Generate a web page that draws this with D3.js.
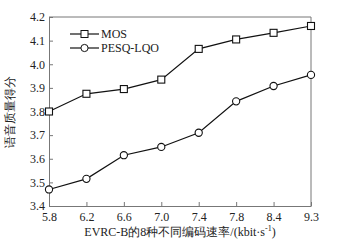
<!DOCTYPE html>
<html>
<head>
<meta charset="utf-8">
<script src="https://cdn.jsdelivr.net/npm/d3@7"></script>
<style>
body { margin: 0; background: #fff; }
text { font-family: "Liberation Serif", "Times New Roman", serif; }
</style>
</head>
<body>
<div id="chart"></div>
<script>
// data
var rates = ["5.8", "6.2", "6.6", "7.0", "7.4", "7.8", "8.4", "9.3"];
var mos = [3.80, 3.875, 3.895, 3.935, 4.065, 4.105, 4.133, 4.162];
var pesq = [3.47, 3.515, 3.615, 3.65, 3.71, 3.843, 3.908, 3.955];
var yTicks = [3.4, 3.5, 3.6, 3.7, 3.8, 3.9, 4.0, 4.1, 4.2];

var margin = {top: 17, right: 31, bottom: 41, left: 49},
    width = 342 - margin.left - margin.right,
    height = 247 - margin.top - margin.bottom;

var svg = d3.select("#chart")
  .append("svg")
    .attr("width", 342)
    .attr("height", 247)
  .append("g")
    .attr("transform", "translate(" + margin.left + "," + margin.top + ")");

var x = d3.scalePoint()
  .domain(rates)
  .range([0, width]);

var y = d3.scaleLinear()
  .domain([3.4, 4.2])
  .range([height, 0]);

var axisColor = "#777";

// X axis, ticks pointing inward
var gx = svg.append("g")
  .attr("transform", "translate(0," + height + ")")
  .call(d3.axisBottom(x).tickSizeInner(-4).tickSizeOuter(0).tickPadding(6));
gx.selectAll("text").style("font-size", "12px").attr("fill", "#222");

// Y axis
var gy = svg.append("g")
  .call(d3.axisLeft(y).tickValues(yTicks).tickFormat(d3.format(".1f"))
    .tickSizeInner(-4).tickSizeOuter(0).tickPadding(4));
gy.selectAll("text").style("font-size", "12px").attr("fill", "#222");

[gx, gy].forEach(function(g) {
  g.select(".domain").attr("stroke", axisColor);
  g.selectAll(".tick line").attr("stroke", axisColor);
});

// top and right of the frame
svg.append("line").attr("x1", 0).attr("x2", width).attr("y1", 0).attr("y2", 0)
  .attr("stroke", axisColor);
svg.append("line").attr("x1", width).attr("x2", width).attr("y1", 0).attr("y2", height)
  .attr("stroke", axisColor);

var line = d3.line()
  .x(function(d, i) { return x(rates[i]); })
  .y(function(d) { return y(d); });

function drawSeries(values, shape) {
  svg.append("path")
    .datum(values)
    .attr("fill", "none")
    .attr("stroke", "#111")
    .attr("stroke-width", 1.2)
    .attr("d", line);
  var pts = svg.append("g").selectAll("g")
    .data(values)
    .enter().append("g")
    .attr("transform", function(d, i) { return "translate(" + x(rates[i]) + "," + y(d) + ")"; });
  if (shape === "square") {
    pts.append("rect").attr("x", -3.5).attr("y", -3.5).attr("width", 7).attr("height", 7)
      .attr("fill", "#fff").attr("stroke", "#111").attr("stroke-width", 1.1);
  } else {
    pts.append("circle").attr("r", 3.6)
      .attr("fill", "#fff").attr("stroke", "#111").attr("stroke-width", 1.1);
  }
}

drawSeries(mos, "square");
drawSeries(pesq, "circle");

// legend
var legend = [{name: "MOS", shape: "square"}, {name: "PESQ-LQO", shape: "circle"}];
var lg = svg.selectAll(".legend")
  .data(legend)
  .enter().append("g")
  .attr("transform", function(d, i) { return "translate(21," + (17 + i * 14) + ")"; });
lg.append("line").attr("x1", 0).attr("x2", 29).attr("stroke", "#111").attr("stroke-width", 1.2);
lg.each(function(d) {
  var g = d3.select(this);
  if (d.shape === "square") {
    g.append("rect").attr("x", 11).attr("y", -3.5).attr("width", 7).attr("height", 7)
      .attr("fill", "#fff").attr("stroke", "#111");
  } else {
    g.append("circle").attr("cx", 14.5).attr("r", 3.6)
      .attr("fill", "#fff").attr("stroke", "#111");
  }
});
lg.append("text").attr("x", 31).attr("dy", "0.35em")
  .style("font-size", "12px").attr("fill", "#222")
  .text(function(d) { return d.name; });

// axis titles
svg.append("text")
  .attr("x", width / 2)
  .attr("y", height + 30)
  .attr("text-anchor", "middle")
  .style("font-size", "12px")
  .attr("fill", "#222")
  .html('EVRC-B的8种不同编码速率/(kbit·s<tspan dy="-5" font-size="8">-1</tspan><tspan dy="5">)</tspan>');

svg.append("text")
  .attr("transform", "translate(-35," + (height / 2) + ") rotate(-90)")
  .attr("text-anchor", "middle")
  .style("font-size", "12px")
  .attr("fill", "#222")
  .text("语音质量得分");
</script>
</body>
</html>
